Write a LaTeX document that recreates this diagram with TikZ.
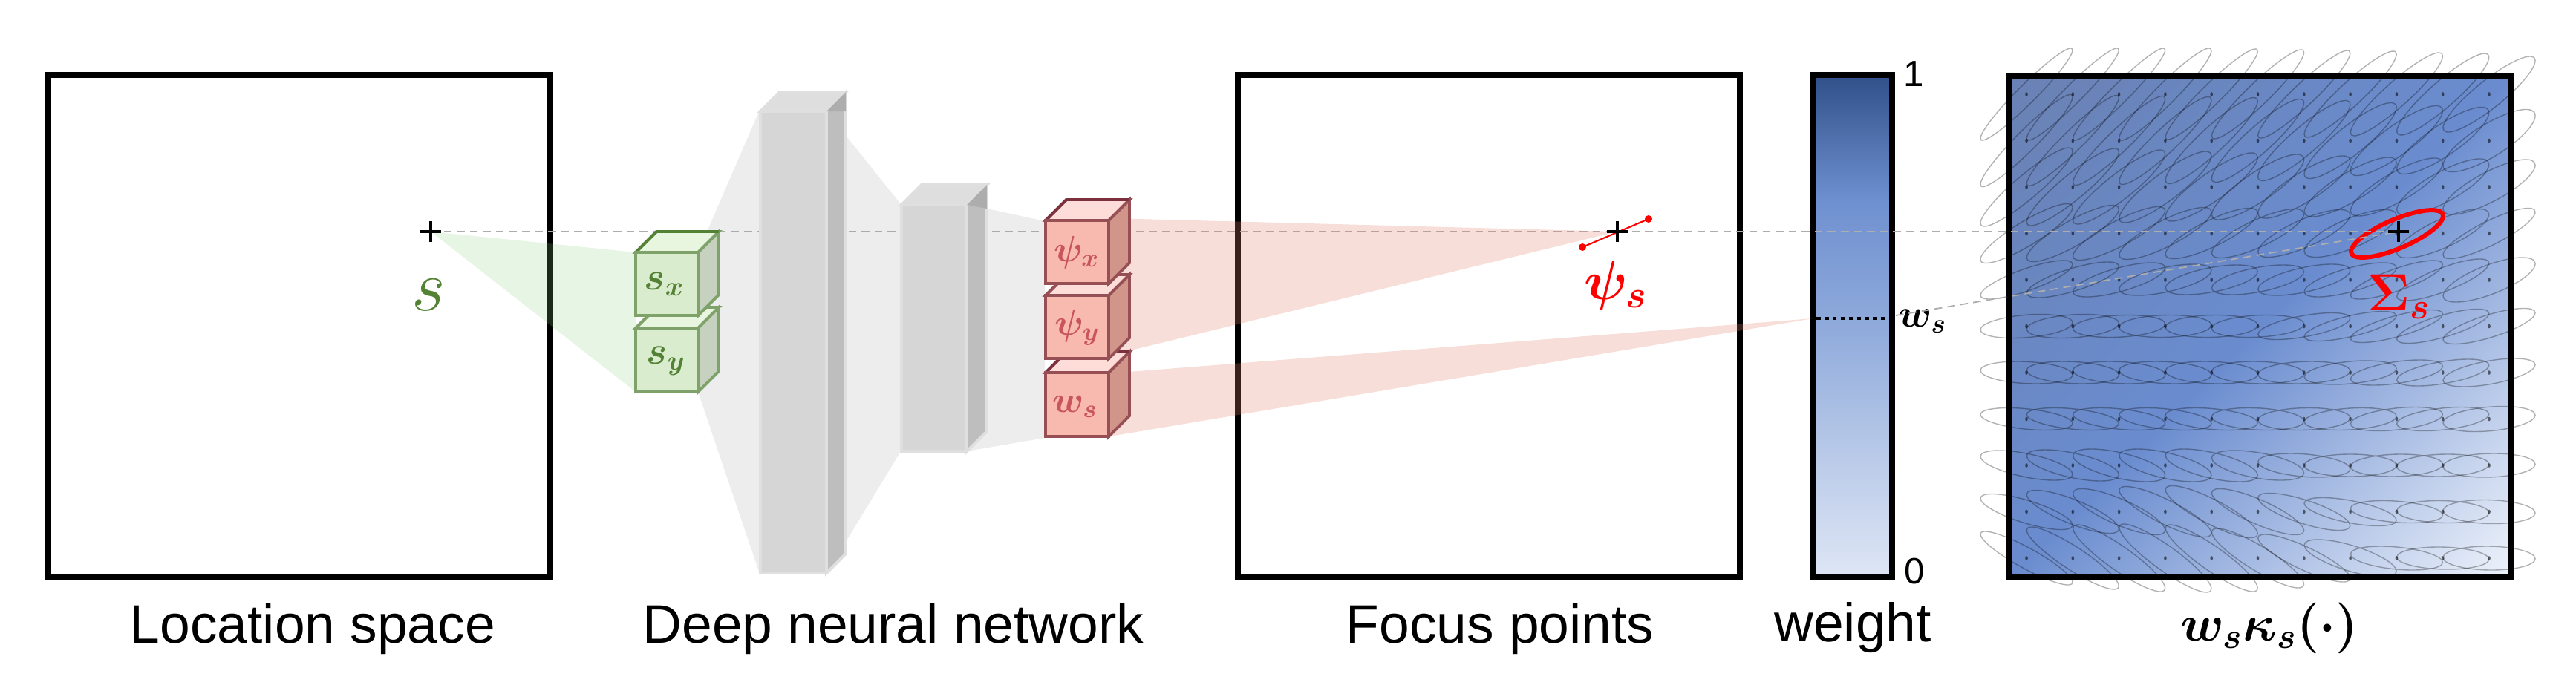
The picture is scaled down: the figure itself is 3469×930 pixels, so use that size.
\documentclass[tikz,border=0pt]{standalone}
\usepackage{fix-cm}
\usepackage{fontspec}
\setmainfont{Liberation Sans}

\definecolor{greenline}{HTML}{7FA26A}
\definecolor{greendark}{HTML}{548235}
\definecolor{greenfront}{HTML}{D9ECCE}
\definecolor{greentop}{HTML}{E8F6E0}
\definecolor{greenside}{HTML}{C6D2BF}
\definecolor{redline}{HTML}{965055}
\definecolor{reddark}{HTML}{7C2F3C}
\definecolor{redfront}{HTML}{F8B9AE}
\definecolor{redtop}{HTML}{FEDDD8}
\definecolor{redside}{HTML}{D19689}
\definecolor{redtext}{HTML}{C8555A}
\definecolor{redcone}{HTML}{E0806A}
\definecolor{grayline}{HTML}{DFDFDF}
\definecolor{grayfront}{HTML}{D6D6D6}
\definecolor{graytop}{HTML}{DEDEDE}
\definecolor{grayside}{HTML}{BEBEBE}

\definecolor{barlow}{HTML}{DEE6F5}
\definecolor{bara}{HTML}{B8C9E8}
\definecolor{barb}{HTML}{8FAADB}
\definecolor{barc}{HTML}{6F90D0}
\definecolor{barhigh}{HTML}{2F5088}
\pgfdeclareverticalshading{weightbar}{100bp}{
    color(0bp)=(barlow); color(25bp)=(barlow); color(37.5bp)=(bara); color(50bp)=(barb);
    color(62.5bp)=(barc); color(75bp)=(barhigh); color(100bp)=(barhigh)}

\definecolor{panelA}{HTML}{6A82B4}
\definecolor{panelB}{HTML}{6A8CCF}
\definecolor{panelC}{HTML}{EEF3FB}
\pgfdeclarehorizontalshading{panelgrad}{100bp}{
    color(0bp)=(panelA); color(14.6bp)=(panelA); color(50bp)=(panelB); color(85.4bp)=(panelC); color(100bp)=(panelC)}

\tikzset{
    box/.style={draw=black,line width=2.4pt},
    title/.style={font=\fontsize{20.8}{24}\selectfont,anchor=base},
    tick/.style={font=\fontsize{14}{16}\selectfont},
    guide/.style={draw=black!32,line width=0.5pt,dash pattern=on 3pt off 2pt},
    funnel/.style={fill=black!35,fill opacity=0.2},
    greenfan/.style={fill=green!35!greendark!60!white,fill opacity=0.2},
    redfan/.style={fill=redcone,fill opacity=0.26},
    plusline/.style={line width=1.2pt,black},
    kernel/.style={draw=black,draw opacity=0.3,line width=0.4pt},
    greenlab/.style={text=greendark,font=\fontsize{15}{17}\selectfont\boldmath},
    redlab/.style={text=redtext,font=\fontsize{14}{16}\selectfont\boldmath},
}

% front face corner (x,y), size, depth, colour prefix, colour of top edge
\newcommand{\cubeblock}[7]{
    \draw[line width=1.1pt,draw=#6line,fill=#6top] (#1,#2) -- (#1+#5,#2-#5) -- (#1+#3+#5,#2-#5) -- (#1+#3,#2) -- cycle;
    \draw[line width=1.1pt,draw=#6line,fill=#6side] (#1+#3,#2) -- (#1+#3+#5,#2-#5) -- (#1+#3+#5,#2+#4-#5) -- (#1+#3,#2+#4) -- cycle;
    \draw[line width=1.1pt,draw=#7] (#1,#2) -- (#1+#5,#2-#5) -- (#1+#3+#5,#2-#5);
    \draw[line width=1.1pt,draw=#6line,fill=#6front] (#1,#2) rectangle (#1+#3,#2+#4);
}
\newcommand{\plusmark}[1]{
    \draw[plusline] ([xshift=-.14cm]#1) -- ([xshift=.14cm]#1);
    \draw[plusline] ([yshift=-.14cm]#1) -- ([yshift=.14cm]#1);
}

\begin{document}
\begin{tikzpicture}[x=0.01cm,y=-0.01cm]
    \useasboundingbox (0,0) rectangle (3469,930);

    \coordinate (loc) at (580,312);
    \coordinate (focus) at (2178,312);
    \coordinate (center) at (3230,312);
    \coordinate (barleft) at (2442,429);
    \coordinate (barright) at (2553,425);

    % boxes
    \draw[box] (65,101) rectangle (741,778);
    \draw[box] (1667,101) rectangle (2343,778);

    % weight bar
    \shade[shading=weightbar] (2442,101) rectangle (2548,778);
    \draw[box] (2442,101) rectangle (2548,778);
    \draw[line width=1.2pt,dash pattern=on 1.6pt off 1.5pt] (2446,429) -- (2543,429);
    \node[tick] (one) at (2577,100) {1};
    \node[tick] (zero) at (2578,770) {0};
    \node[font=\fontsize{15}{18}\selectfont\boldmath] (wlab) at (2589,433) {$w_s$};

    % kernel panel
    \shade[shading=panelgrad,shading angle=-45] (2705,102) rectangle (3382,778);
    \foreach \bvals/\rvals [count=\row from 0] in {
        {62,62,62,62,61,60,59,58,56,55,51}/{.96,.96,.96,.95,.95,.94,.94,.93,.92,.91,.89},
        {62,61,60,59,58,56,54,51,47,45,42}/{.95,.95,.94,.93,.92,.91,.9,.88,.86,.84,.8},
        {53,52,50,48,46,44,42,40,39,38,37}/{.92,.91,.9,.88,.87,.85,.84,.83,.82,.8,.8},
        {40,38,36,35,34,33,32,32,32,33,34}/{.88,.86,.85,.83,.82,.8,.78,.75,.72,.78,.85},
        {26,24,23,21,20,20,21,23,26,28,30}/{.8,.75,.7,.6,.55,.55,.6,.7,.8,.8,.72},
        {16,16,15,15,15,15,18,20,22,23,24}/{.3,.25,.2,.1,.1,.2,.6,.7,.75,.75,.75},
        {15,15,15,15,15,15,15,16,17,18,19}/{-.2,-.2,-.2,-.2,-.15,-.1,.15,.35,.5,.55,.55},
        {15,15,15,15,15,15,15,15,16,16,17}/{-.4,-.4,-.4,-.4,-.35,-.2,.1,.25,.4,.4,.3},
        {20,21,22,22,22,20,16,15,15,15,16}/{-.6,-.6,-.6,-.6,-.6,-.5,-.3,0,.1,.1,.1},
        {24,29,31,34,35,31,25,19,15,15,16}/{-.75,-.8,-.8,-.85,-.85,-.82,-.75,-.6,-.3,-.1,-.1},
        {36,42,45,46,45,40,32,25,16,15,16}/{-.9,-.9,-.9,-.9,-.9,-.88,-.85,-.7,-.35,-.1,-.05}} {
        \foreach \col in {0,...,10} {
            \pgfmathsetmacro{\cx}{2729+62.3*\col}
            \pgfmathsetmacro{\cy}{127+62.5*\row}
            \pgfmathsetmacro{\bb}{{\bvals}[\col]/100}
            \pgfmathsetmacro{\rr}{{\rvals}[\col]}
            \pgfmathsetmacro{\mb}{\bb*\rr}
            \pgfmathsetmacro{\md}{\bb*sqrt(1-\rr*\rr)}
            \draw[kernel,cm={0.62,\mb,0,\md,(\cx,\cy)}] (0,0) circle[radius=1cm];
            \fill[black,opacity=0.55] (\cx,\cy) circle[x radius=.018cm,y radius=.028cm];
        }
    }
    \draw[box] (2705,102) rectangle (3382,778);
    \draw[red,line width=1.7pt,cm={0.62,0.24,0,0.21,(3228,315)}] (0,0) circle[radius=1cm];

    % guide lines
    \draw[guide] (loc) -- (center);
    \draw[guide] (barright) -- (center);

    % funnels
    \fill[greenfan] (loc) -- (856,340) -- (856,528) -- cycle;
    \fill[funnel] (940,340) -- (1023,148) -- (1023,773) -- (940,528) -- cycle;
    \fill[funnel] (1113,150) -- (1213,275) -- (1213,608) -- (1113,773) -- cycle;
    \fill[funnel] (1302,275) -- (1407,298) -- (1407,590) -- (1302,608) -- cycle;
    \fill[redfan] (1494,294) -- (focus) -- (1494,479) -- cycle;
    \fill[redfan] (1494,503) -- (barleft) -- (1494,588) -- cycle;

    % layers
    \cubeblock{1024}{150}{89}{622}{26}{gray}{grayline}
    \fill[black!32] (1113,150) -- (1139,124) -- (1139,150) -- cycle;
    \cubeblock{1214}{276}{88}{332}{27}{gray}{grayline}
    \fill[black!32] (1302,276) -- (1329,249) -- (1329,281) -- cycle;

    % input and output units
    \cubeblock{856}{442}{84}{86}{28}{green}{greenline}
    \cubeblock{856}{340}{84}{85}{28}{green}{greendark}
    \cubeblock{1408}{502}{85}{86}{28}{red}{reddark}
    \cubeblock{1408}{398}{85}{85}{28}{red}{redline}
    \cubeblock{1408}{297}{85}{85}{28}{red}{reddark}

    \node[greenlab] (sx) at (895,383) {$s_x$};
    \node[greenlab] (sy) at (897,486) {$s_y$};
    \node[redlab] (px) at (1450,340) {$\psi_x$};
    \node[redlab] (py) at (1451,441) {$\psi_y$};
    \node[redlab] (ws) at (1448,548) {$w_s$};

    % marks
    \plusmark{loc}
    \coordinate (psia) at (2131,333);
    \coordinate (psib) at (2220,295);
    \draw[red,line width=0.6pt] (psia) -- (psib);
    \fill[red] (psia) circle[radius=.05cm];
    \fill[red] (psib) circle[radius=.05cm];
    \plusmark{focus}
    \plusmark{center}

    \node[text=greendark,font=\fontsize{28}{32}\selectfont] (slab) at (577,397) {$s$};
    \node[text=red,font=\fontsize{21}{26}\selectfont\boldmath] (psilab) at (2176,385) {$\psi_s$};
    \node[text=red,font=\fontsize{20}{24}\selectfont\boldmath] (siglab) at (3231,400) {$\Sigma_s$};

    % titles
    \node[title] (t1) at (421,866) {Location space};
    \node[title] (t2) at (1203,866) {Deep neural network};
    \node[title] (t3) at (2020,866) {Focus points};
    \node[title] (t4) at (2495,864) {weight};
    \node[title,font=\fontsize{19.5}{24}\selectfont\boldmath] (t5) at (3056,863) {$w_s\kappa_s(\cdot)$};
\end{tikzpicture}
\end{document}
